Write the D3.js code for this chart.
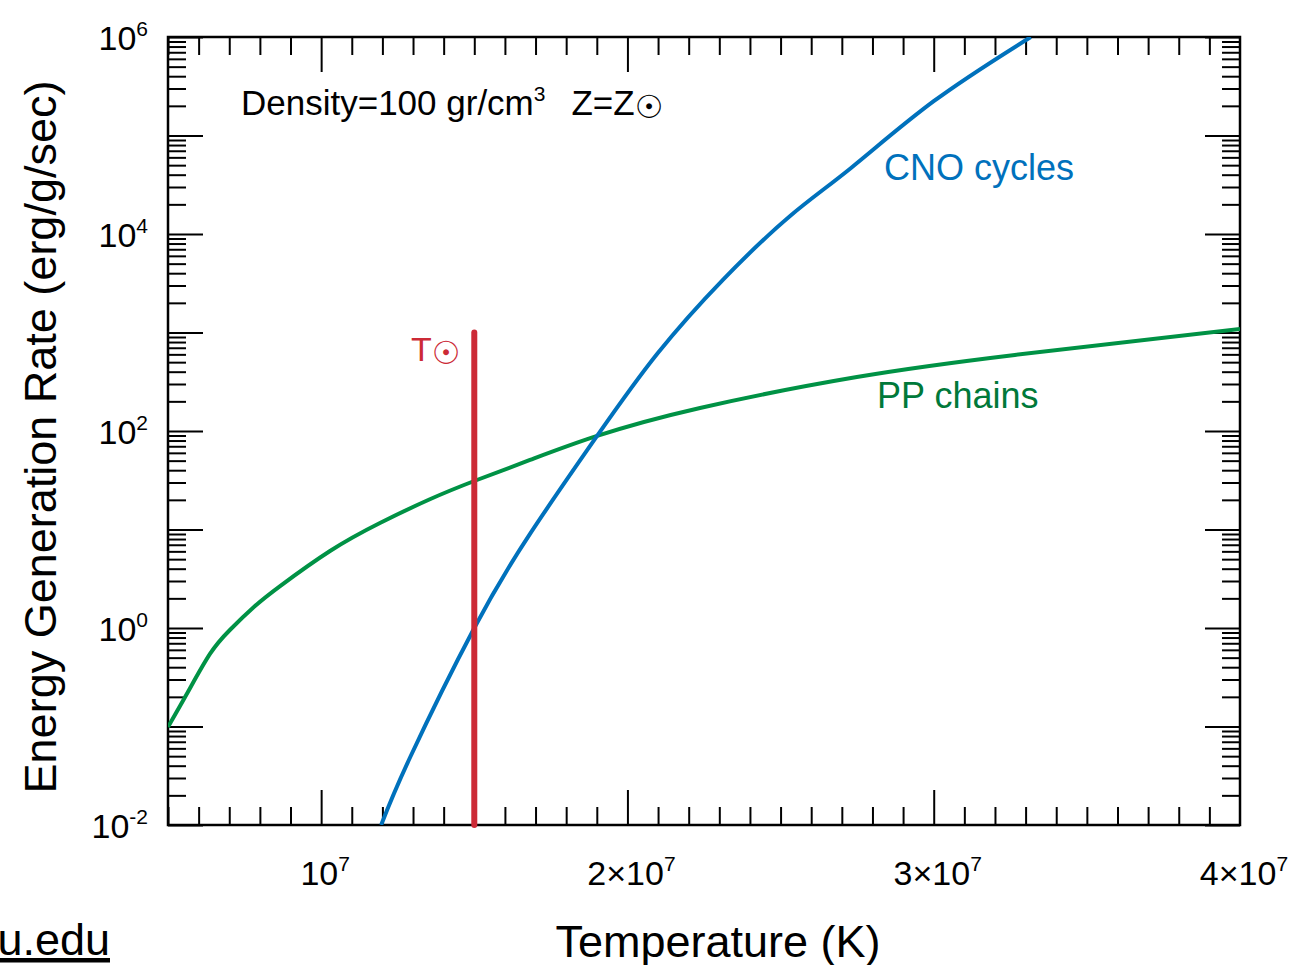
<!DOCTYPE html>
<html>
<head>
<meta charset="utf-8">
<title>Energy generation rate vs temperature</title>
<style>
  body { margin:0; background:#fff; }
  text { font-family:"Liberation Sans", Arial, Helvetica, sans-serif; fill:#000; }
  .tick line { stroke:#000; stroke-width:2; }
  .domain { display:none; }
</style>
</head>
<body>
<script src="https://cdn.jsdelivr.net/npm/d3@7"></script>
<script>
// values: temperature (K), rate (erg/g/sec)
const ppTemp = [5.00e6, 5.65e6, 6.37e6, 7.02e6, 7.84e6, 8.66e6, 1.029e7, 1.192e7, 1.355e7, 1.502e7,
                1.682e7, 1.901e7, 2.237e7, 2.749e7, 3.265e7, 4.00e7];
const ppRate = [0.0989, 0.224, 0.545, 0.955, 1.671, 2.667, 6.05, 11.64, 20.28, 31.26,
                50.8, 89.1, 171.4, 353.2, 591.6, 1086];

const cnoTemp = [1.196e7, 1.291e7, 1.50e7, 1.683e7, 1.901e7, 2.098e7, 2.314e7, 2.533e7, 2.729e7,
                 3.00e7, 3.317e7];
const cnoRate = [0.01, 0.049, 1.0, 9.14, 89.1, 611, 3483, 15420, 46560,
                 222800, 1e6];

const sunTemp = 1.5e7;
const sunRates = [1e-2, 1e3];

const xLabelVals = [1e7, 2e7, 3e7, 4e7];
const xLabelMant = ["", "2×", "3×", "4×"];
const yLabelExps = [-2, 0, 2, 4, 6];

const W = 1293, H = 965;
const m = { left: 168, right: 1240, top: 37, bottom: 825 };

const svg = d3.select("body").append("svg")
  .attr("width", W)
  .attr("height", H);

const x = d3.scaleLinear().domain([5e6, 4e7]).range([m.left, m.right]);
const y = d3.scaleLog().domain([1e-2, 1e6]).range([m.bottom, m.top]);

// tick positions
const yMajor = d3.range(-2, 7).map(e => Math.pow(10, e));
const yMinor = [];
d3.range(-2, 6).forEach(e => { for (let k = 2; k <= 9; k++) yMinor.push(k * Math.pow(10, e)); });
const xMinor = d3.range(5, 41).filter(v => v % 10 !== 0).map(v => v * 1e6);
const xMajor = [1e7, 2e7, 3e7];

const noLabel = () => "";

//ticks point inward on all four sides
svg.append("g").attr("transform", `translate(${m.left},0)`)
  .call(d3.axisLeft(y).tickValues(yMinor).tickSize(-18).tickFormat(noLabel));
svg.append("g").attr("transform", `translate(${m.left},0)`)
  .call(d3.axisLeft(y).tickValues(yMajor).tickSize(-35).tickFormat(noLabel));
svg.append("g").attr("transform", `translate(${m.right},0)`)
  .call(d3.axisRight(y).tickValues(yMinor).tickSize(-18).tickFormat(noLabel));
svg.append("g").attr("transform", `translate(${m.right},0)`)
  .call(d3.axisRight(y).tickValues(yMajor).tickSize(-35).tickFormat(noLabel));

svg.append("g").attr("transform", `translate(0,${m.bottom})`)
  .call(d3.axisBottom(x).tickValues(xMinor).tickSize(-18).tickFormat(noLabel));
svg.append("g").attr("transform", `translate(0,${m.bottom})`)
  .call(d3.axisBottom(x).tickValues(xMajor).tickSize(-35).tickFormat(noLabel));
svg.append("g").attr("transform", `translate(0,${m.top})`)
  .call(d3.axisTop(x).tickValues(xMinor).tickSize(-18).tickFormat(noLabel));
svg.append("g").attr("transform", `translate(0,${m.top})`)
  .call(d3.axisTop(x).tickValues(xMajor).tickSize(-35).tickFormat(noLabel));

// frame
svg.append("rect")
  .attr("x", m.left).attr("y", m.top)
  .attr("width", m.right - m.left).attr("height", m.bottom - m.top)
  .attr("fill", "none").attr("stroke", "#000").attr("stroke-width", 2.5);

// tick labels
const yl = svg.append("g").attr("font-size", 34);
yLabelExps.forEach(e => {
  const t = yl.append("text")
    .attr("x", 148)
    .attr("y", y(Math.pow(10, e)) + 13)
    .attr("text-anchor", "end");
  t.append("tspan").text("10");
  t.append("tspan").attr("font-size", 21).attr("dy", -14).text(e);
});

const xl = svg.append("g").attr("font-size", 34);
xLabelVals.forEach((v, i) => {
  const t = xl.append("text")
    .attr("x", x(v) + 4)
    .attr("y", 885)
    .attr("text-anchor", "middle");
  t.append("tspan").text(xLabelMant[i] + "10");
  t.append("tspan").attr("font-size", 21).attr("dy", -14).text("7");
});

// curves
svg.append("clipPath").attr("id", "plot")
  .append("rect")
  .attr("x", m.left).attr("y", m.top)
  .attr("width", m.right - m.left).attr("height", m.bottom - m.top);

const line = d3.line()
  .x(d => x(d[0]))
  .y(d => y(d[1]))
  .curve(d3.curveNatural);

const curves = svg.append("g").attr("clip-path", "url(#plot)");

curves.append("path")
  .datum(d3.zip(ppTemp, ppRate))
  .attr("d", line)
  .attr("fill", "none")
  .attr("stroke", "#009245")
  .attr("stroke-width", 4);

curves.append("path")
  .datum(d3.zip(cnoTemp, cnoRate))
  .attr("d", line)
  .attr("fill", "none")
  .attr("stroke", "#0071bc")
  .attr("stroke-width", 4);

// solar temperature marker
svg.append("line")
  .attr("x1", x(sunTemp)).attr("x2", x(sunTemp))
  .attr("y1", y(sunRates[0])).attr("y2", y(sunRates[1]))
  .attr("stroke", "#cc2a36")
  .attr("stroke-width", 6)
  .attr("stroke-linecap", "round");

// annotations
const sunT = svg.append("text")
  .attr("x", 411).attr("y", 361)
  .attr("font-size", 34)
  .style("fill", "#cc2a36");
sunT.append("tspan").text("T");
sunT.append("tspan").attr("font-family", "DejaVu Sans").attr("font-size", 32).attr("dy", 3).text("☉");

const dens = svg.append("text")
  .attr("x", 241).attr("y", 115)
  .attr("font-size", 35);
dens.append("tspan").text("Density=100 gr/cm");
dens.append("tspan").attr("font-size", 21).attr("dy", -14).text("3");
dens.append("tspan").attr("dy", 14).attr("dx", 26).text("Z=Z");
dens.append("tspan").attr("font-family", "DejaVu Sans").attr("font-size", 32).attr("dy", 3).text("☉");

svg.append("text")
  .attr("x", 884).attr("y", 180)
  .attr("font-size", 36)
  .style("fill", "#0071bc")
  .text("CNO cycles");

svg.append("text")
  .attr("x", 877).attr("y", 408)
  .attr("font-size", 36)
  .style("fill", "#00793a")
  .text("PP chains");

// axis titles
svg.append("text")
  .attr("transform", "translate(56,437) rotate(-90)")
  .attr("text-anchor", "middle")
  .attr("font-size", 45)
  .text("Energy Generation Rate (erg/g/sec)");

svg.append("text")
  .attr("x", 718).attr("y", 957)
  .attr("text-anchor", "middle")
  .attr("font-size", 45)
  .text("Temperature (K)");

svg.append("text")
  .attr("x", 110).attr("y", 955)
  .attr("text-anchor", "end")
  .attr("font-size", 45)
  .attr("text-decoration", "underline")
  .text("u.edu");
</script>
</body>
</html>
